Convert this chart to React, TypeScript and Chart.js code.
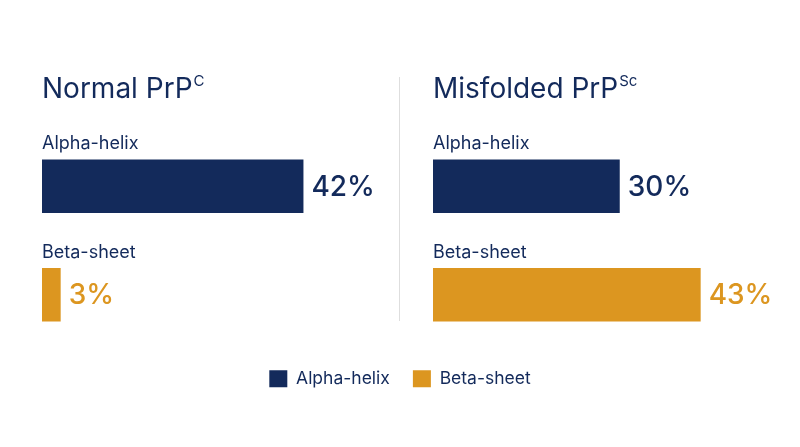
import React, { useEffect, useRef } from "react";
import { Chart, registerables } from "chart.js";

Chart.register(...registerables);

const categories = ["Alpha-helix", "Beta-sheet"];
const normalValues = [42, 3];
const misfoldedValues = [30, 43];
const panelTitles = ["Normal PrP", "Misfolded PrP"];
const panelSuperscripts = ["C", "Sc"];
const legendNames = ["Alpha-helix", "Beta-sheet"];

const NAVY = "#132a5b";
const ORANGE = "#dc9620";
const COLORS = [NAVY, ORANGE];
const FONT = "Inter, 'Noto Sans', sans-serif";

function makePanelPlugin(title: string, sup: string) {
  return {
    id: "panelDecor",
    afterDatasetsDraw(chart: any) {
      const ctx = chart.ctx;
      const meta = chart.getDatasetMeta(0);
      const area = chart.chartArea;
      ctx.save();
      ctx.textBaseline = "alphabetic";
      ctx.textAlign = "left";
      ctx.fillStyle = NAVY;
      ctx.font = `400 28px ${FONT}`;
      ctx.fillText(title, area.left, 98);
      const w = ctx.measureText(title).width;
      ctx.font = `400 15px ${FONT}`;
      ctx.fillText(sup, area.left + w + 1, 86);
      meta.data.forEach((bar: any, i: number) => {
        const top = bar.y - bar.height / 2;
        ctx.fillStyle = NAVY;
        ctx.font = `400 18px ${FONT}`;
        ctx.textBaseline = "alphabetic";
        ctx.fillText(String(chart.data.labels[i]), bar.base, top - 10);
        const v = chart.data.datasets[0].data[i];
        ctx.fillStyle = COLORS[i];
        ctx.font = `500 28px ${FONT}`;
        ctx.textBaseline = "middle";
        ctx.fillText(`${v}%`, bar.x + 8, bar.y + 1);
      });
      ctx.restore();
    },
  };
}

function Panel(props: { values: number[]; title: string; sup: string; padLeft: number; padRight: number; left: number }) {
  const ref = useRef<HTMLCanvasElement>(null);
  useEffect(() => {
    const chart = new Chart(ref.current!, {
      type: "bar",
      data: {
        labels: categories,
        datasets: [
          {
            data: props.values,
            backgroundColor: COLORS,
            borderWidth: 0,
            categoryPercentage: 1,
            barPercentage: 0.495,
          },
        ],
      },
      options: {
        indexAxis: "y",
        animation: false,
        responsive: false,
        maintainAspectRatio: false,
        layout: { padding: { left: props.padLeft, right: props.padRight, top: 132, bottom: 11 } },
        scales: {
          x: { display: false, min: 0, max: 49.8 },
          y: { display: false },
        },
        plugins: { legend: { display: false }, tooltip: { enabled: false } },
      },
      plugins: [makePanelPlugin(props.title, props.sup)],
    } as any);
    return () => chart.destroy();
  }, []);
  return (
    <canvas
      ref={ref}
      width={400}
      height={360}
      style={{ position: "absolute", left: props.left, top: 0, width: 400, height: 360 }}
    />
  );
}

function Legend() {
  const ref = useRef<HTMLCanvasElement>(null);
  useEffect(() => {
    const chart = new Chart(ref.current!, {
      type: "bar",
      data: {
        labels: [],
        datasets: legendNames.map((n, i) => ({ label: n, data: [], backgroundColor: COLORS[i], borderWidth: 0 })),
      },
      options: {
        animation: false,
        responsive: false,
        maintainAspectRatio: false,
        scales: { x: { display: false }, y: { display: false } },
        plugins: {
          tooltip: { enabled: false },
          legend: {
            display: true,
            position: "top",
            align: "center",
            maxHeight: 80,
            labels: {
              boxWidth: 18,
              boxHeight: 17,
              padding: 23,
              color: NAVY,
              font: { family: FONT, size: 17.5 },
            },
          },
        },
      },
    } as any);
    return () => chart.destroy();
  }, []);
  return (
    <canvas
      ref={ref}
      width={800}
      height={80}
      style={{ position: "absolute", left: 0, top: 347, width: 800, height: 80 }}
    />
  );
}

export default function App() {
  return (
    <div style={{ position: "absolute", left: 0, top: 0, width: 800, height: 447, background: "#ffffff", overflow: "hidden" }}>
      <Panel values={normalValues} title={panelTitles[0]} sup={panelSuperscripts[0]} padLeft={42} padRight={48} left={0} />
      <Panel values={misfoldedValues} title={panelTitles[1]} sup={panelSuperscripts[1]} padLeft={33} padRight={57} left={400} />
      <div style={{ position: "absolute", left: 399, top: 77, width: 1, height: 244, background: "#dedede" }} />
      <Legend />
    </div>
  );
}
